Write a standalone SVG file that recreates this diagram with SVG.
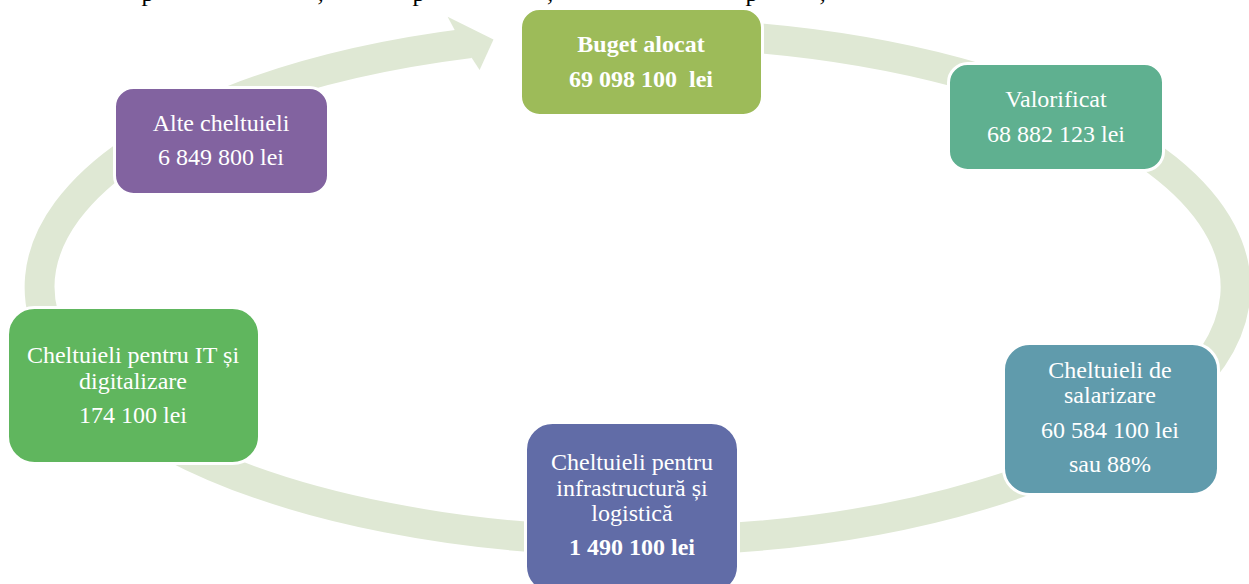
<svg xmlns="http://www.w3.org/2000/svg" width="1249" height="584" viewBox="0 0 1249 584">
<style>
text{font-family:"Liberation Serif","Times New Roman",serif;font-size:24px;fill:#fff;text-anchor:middle;white-space:pre}
.b{font-weight:bold}
.top{fill:#000;font-size:25px;text-anchor:start}
.n{stroke:#fff;stroke-width:3}
.c{fill:none;stroke:#dfe8d4;stroke-width:30}
</style>
<rect width="1249" height="584" fill="#fff"/>
<g id="top-line">
<text class="top" x="141.5" y="0.5">p</text><text class="top" x="317.5" y="0.5">,</text><text class="top" x="412.5" y="0.5">p</text><text class="top" x="547" y="0.5">,</text><text class="top" x="745.5" y="0.5">p</text><text class="top" x="819.5" y="0.5">,</text>
</g>
<g id="connectors">
<path class="c" d="M700 34.4A598 254 0 1 1 470 43.2"/>
<path d="M447.6 16.7L493.5 39.5L479.6 70L471 56.7L454.7 30Z" fill="#dfe8d4"/>
</g>
<g id="node-buget"><rect class="n" x="520.5" y="8.5" width="242" height="107" rx="19" fill="#9dbb59"/><text class="b" x="641" y="52">Buget alocat</text><text class="b" x="641" y="87">69 098 100  lei</text></g>
<g id="node-valorificat"><rect class="n" x="948.5" y="63.5" width="215" height="107" rx="19" fill="#5fb090"/><text x="1056" y="107">Valorificat</text><text x="1056" y="142">68 882 123 lei</text></g>
<g id="node-salarizare"><rect class="n" x="1003.5" y="343.5" width="215" height="151" rx="26" fill="#609bac"/><text x="1110" y="378">Cheltuieli de</text><text x="1110" y="403">salarizare</text><text x="1110" y="438">60 584 100 lei</text><text x="1110" y="472">sau 88%</text></g>
<g id="node-infrastructura"><rect class="n" x="525.5" y="422.5" width="213" height="171" rx="27" fill="#616ca7"/><text x="632" y="470">Cheltuieli pentru</text><text x="632" y="496">infrastructură și</text><text x="632" y="521">logistică</text><text class="b" x="632" y="555">1 490 100 lei</text></g>
<g id="node-it"><rect class="n" x="7.5" y="307.5" width="252" height="156" rx="27" fill="#60b65e"/><text x="133" y="363">Cheltuieli pentru IT și</text><text x="133" y="389">digitalizare</text><text x="133" y="423">174 100 lei</text></g>
<g id="node-alte"><rect class="n" x="114.5" y="87.5" width="214" height="107" rx="19" fill="#8263a0"/><text x="221" y="131">Alte cheltuieli</text><text x="221" y="165">6 849 800 lei</text></g>
</svg>
